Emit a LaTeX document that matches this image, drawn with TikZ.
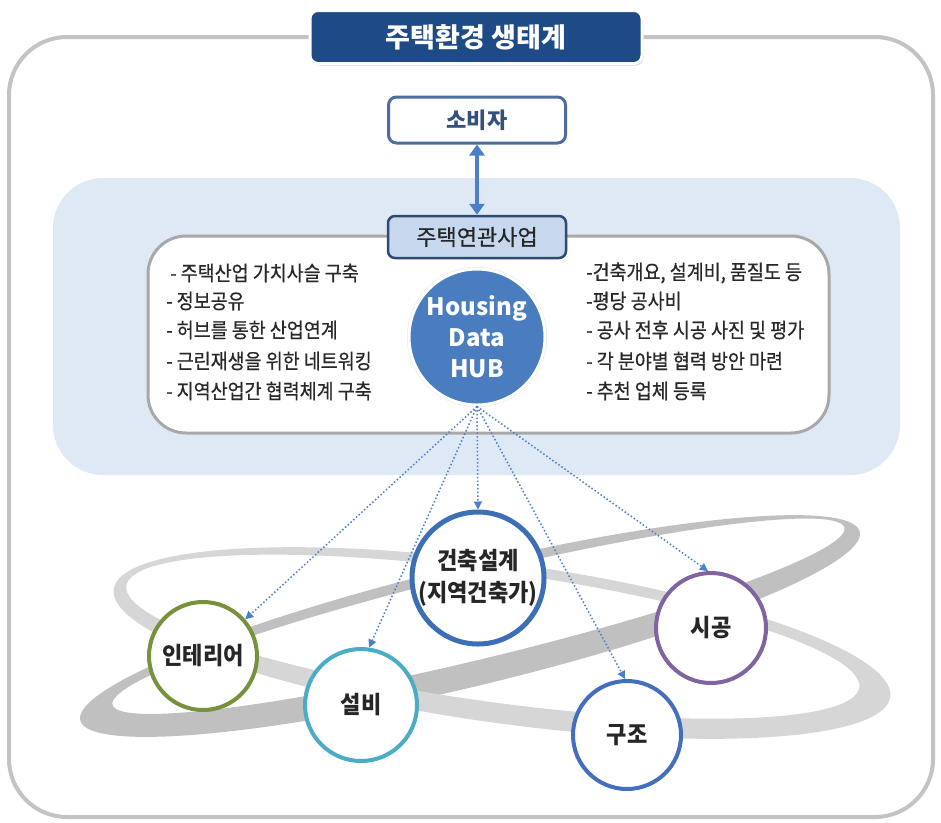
\documentclass[tikz,border=0pt]{standalone}
\usepackage{fontspec}
\setmainfont{Noto Sans CJK KR}
\newfontfamily\listfont{Noto Sans CJK KR}[FakeStretch=0.9,FakeBold=0.5]
\newfontfamily\medfont{Noto Sans CJK KR}[FakeBold=0.6]
\newfontfamily\circfont{Noto Sans CJK KR}[FakeStretch=0.92]
\usetikzlibrary{arrows.meta,shadows}
\definecolor{titleblue}{RGB}{30,74,134}
\definecolor{framegray}{RGB}{195,195,195}
\definecolor{bandblue}{RGB}{223,233,246}
\definecolor{boxgray}{RGB}{168,168,168}
\definecolor{consborder}{RGB}{78,108,158}
\definecolor{constext}{RGB}{52,80,125}
\definecolor{bizfill}{RGB}{198,215,238}
\definecolor{bizborder}{RGB}{45,74,115}
\definecolor{hubblue}{RGB}{74,125,192}
\definecolor{arrowblue}{RGB}{74,128,200}
\definecolor{listgray}{RGB}{40,40,40}
\definecolor{ringdark}{RGB}{192,192,192}
\definecolor{ringlight}{RGB}{214,214,214}
\definecolor{archblue}{RGB}{61,111,182}
\definecolor{intergreen}{RGB}{118,146,60}
\definecolor{setbiteal}{RGB}{75,172,198}
\definecolor{sigongpurple}{RGB}{128,100,162}
\definecolor{gujoblue}{RGB}{68,110,190}
\definecolor{labeltext}{RGB}{38,38,38}
\tikzset{
  titlebox/.style={rectangle, rounded corners=8pt, fill=titleblue, draw=white, line width=3pt,
    minimum width=332pt, minimum height=53pt, text=white,
    font=\bfseries\fontsize{27}{30}\selectfont,
    drop shadow={shadow xshift=1.5pt, shadow yshift=-2pt, opacity=.35}},
  consbox/.style={rectangle, rounded corners=8pt, fill=white, draw=consborder, line width=3pt,
    minimum width=177pt, minimum height=46pt, text=constext,
    font=\bfseries\fontsize{22}{26}\selectfont},
  bizbox/.style={rectangle, rounded corners=7pt, fill=bizfill, draw=bizborder, line width=2.5pt,
    minimum width=178pt, minimum height=42pt, text=labeltext,
    font=\medfont\fontsize{22}{26}\selectfont},
  hubnode/.style={circle, fill=hubblue, draw=white, line width=3pt, minimum size=136pt,
    inner sep=0pt, text=white, align=center,
    font=\bfseries\fontsize{24}{31}\selectfont,
    drop shadow={shadow xshift=0pt, shadow yshift=0pt, shadow scale=1.03, opacity=.18}},
  listitem/.style={anchor=west, inner sep=0pt, text=listgray,
    font=\listfont\fontsize{20.5}{22}\selectfont},
  orb/.style={circle, fill=white, line width=4pt, inner sep=-8pt, text=labeltext,
    align=center, font=\circfont\bfseries\fontsize{24}{32}\selectfont},
  dblarrow/.style={draw=arrowblue, line width=4pt, {Triangle[length=11pt,width=15pt]}-{Triangle[length=11pt,width=15pt]}},
  dotarrow/.style={draw=arrowblue, line width=1.5pt, dash pattern=on 1.5pt off 2.2pt,
    -{Triangle[length=8pt,width=8pt]}}
}
\begin{document}
\begin{tikzpicture}[x=1pt,y=1pt]
\useasboundingbox (0,0) rectangle (941,-822);
\fill[white] (0,0) rectangle (941,-822);

% outer frame
\draw[framegray, line width=4pt, rounded corners=58pt] (9,-37) rectangle (933,-817);

% light blue band
\fill[bandblue, rounded corners=50pt] (53,-178) rectangle (900,-475);

% inner white box
\draw[boxgray, line width=3pt, fill=white, rounded corners=38pt] (148,-236) rectangle (829,-433);

% title
\node[titlebox] (title) at (476,-37) {주택환경 생태계};

% consumer and related business
\node[consbox] (cons) at (477,-120) {소비자};
\node[bizbox] (biz) at (477,-237) {주택연관사업};
\draw[dblarrow] (cons) -- (biz);

% hub
\node[hubnode] (hub) at (477,-337) {Housing\\Data\\HUB};

% left list
\node[listitem] (l1) at (170,-273) {- 주택산업 가치사슬 구축};
\node[listitem] (l2) at (166,-301) {- 정보공유};
\node[listitem] (l3) at (166,-330) {- 허브를 통한 산업연계};
\node[listitem] (l4) at (166,-361) {- 근린재생을 위한 네트워킹};
\node[listitem] (l5) at (166,-391) {- 지역산업간 협력체계 구축};

% right list
\node[listitem] (r1) at (586,-273) {-건축개요, 설계비, 품질도 등};
\node[listitem] (r2) at (586,-301) {-평당 공사비};
\node[listitem] (r3) at (586,-330) {- 공사 전후 시공 사진 및 평가};
\node[listitem] (r4) at (586,-361) {- 각 분야별 협력 방안 마련};
\node[listitem] (r5) at (586,-391) {- 추천 업체 등록};

% orbit rings
\begin{scope}[shift={(470,-626)}, rotate=13.6]
  \fill[ringdark, even odd rule] (0,0) ellipse [x radius=401, y radius=60]
    (10.5,7.5) ellipse [x radius=376.5, y radius=42.5];
\end{scope}
\begin{scope}[shift={(502,-643)}, rotate=-7.9]
  \fill[ringlight, even odd rule] (0,0) ellipse [x radius=392, y radius=80]
    (-10,5) ellipse [x radius=370, y radius=65];
\end{scope}

% circles
\node[orb, draw=archblue, line width=5pt, minimum size=132pt] (arch) at (478,-578) {건축설계\\(지역건축가)};
\node[orb, draw=intergreen, minimum size=108pt] (inter) at (203,-656) {인테리어};
\node[orb, draw=setbiteal, minimum size=112pt] (setbi) at (361,-705) {설비};
\node[orb, draw=sigongpurple, minimum size=110pt] (sigong) at (711,-628) {시공};
\node[orb, draw=gujoblue, minimum size=108pt] (gujo) at (627,-735) {구조};

% dotted connectors
\draw[dotarrow] (hub.south) -- (inter.41);
\draw[dotarrow] (hub.south) -- (setbi.82);
\draw[dotarrow] (hub.south) -- (arch.north);
\draw[dotarrow] (hub.south) -- (gujo.92);
\draw[dotarrow] (hub.south) -- (sigong.93);
\end{tikzpicture}
\end{document}
